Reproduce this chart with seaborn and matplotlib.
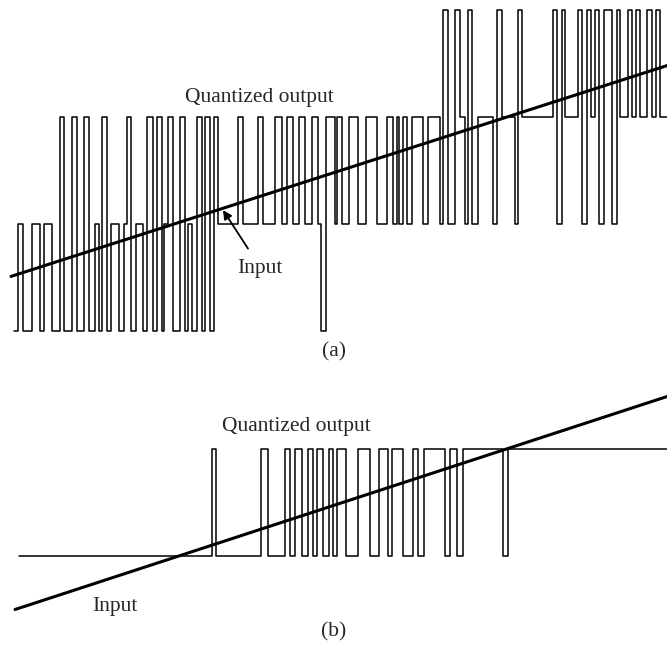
import matplotlib
matplotlib.use("Agg")
import matplotlib.pyplot as plt
import seaborn as sns

sns.set_theme(style="white")
plt.rcParams['font.family'] = ['Liberation Serif', 'DejaVu Serif']

# ---------- DATA ----------
# (a) multi-level quantizer: time of each step and the level held after it
A_TIMES = [14, 18, 23, 32, 40, 44, 52, 60, 64, 72, 77, 84, 89, 95, 99, 102, 107, 111,
           119, 124, 127, 131, 136, 143, 147, 153, 157, 162, 164, 168, 173, 180, 185,
           188, 192, 197, 202, 205, 210, 214, 218, 238, 243, 258, 263, 275, 282, 287,
           293, 299, 305, 312, 318, 321, 326, 335, 337, 342, 349, 358, 366, 377, 387,
           393, 397, 399, 403, 407, 412, 423, 428, 440, 443, 448, 455, 460, 465, 468,
           472, 478, 493, 497, 502, 515, 518, 522, 553, 557, 562, 565, 578, 582, 587,
           591, 595, 599, 604, 612, 617, 620, 628, 632, 636, 640, 647, 652, 656, 660, 667]
A_LEVELS = [0, 1, 0, 1, 0, 1, 0, 2, 0, 2, 0, 2, 0, 1, 0, 2, 0, 1,
            0, 1, 2, 0, 1, 0, 2, 0, 2, 0, 1, 2, 0, 2, 0,
            1, 0, 2, 0, 2, 0, 2, 1, 2, 1, 2, 1, 2, 1, 2,
            1, 2, 1, 2, 1, 0, 2, 1, 2, 1, 2, 1, 2, 1, 2,
            1, 2, 1, 2, 1, 2, 1, 2, 1, 3, 1, 3, 2, 1, 3,
            1, 2, 1, 3, 2, 1, 3, 2, 3, 1, 3, 2, 3, 1, 3,
            2, 3, 1, 3, 1, 3, 2, 3, 2, 3, 2, 3, 2, 3, 2, 2]
A_INPUT_T = [11, 667]
A_INPUT = [0.51, 2.48]

# (b) two-level quantizer
B_TIMES = [19, 212, 216, 261, 268, 285, 290, 295, 302, 308, 313, 317, 323, 329, 333,
           337, 346, 358, 370, 379, 388, 392, 403, 413, 418, 424, 445, 450, 457, 463,
           503, 508, 667]
B_LEVELS = [0, 1, 0, 1, 0, 1, 0, 1, 0, 1, 0, 1, 0, 1, 0,
            1, 0, 1, 0, 1, 0, 1, 0, 1, 0, 1, 0, 1, 0, 1,
            0, 1, 1]
B_INPUT_T = [15, 667]
B_INPUT = [-0.50, 1.49]
# -------------------------------------------------

assert len(A_TIMES) == len(A_LEVELS)
assert len(B_TIMES) == len(B_LEVELS)

W, H = 667, 649
fig = plt.figure(figsize=(W / 100, H / 100), dpi=100)

# panel (a): pixel rows 0..345, level 0 at row 331, 107 px per level
ax_a = fig.add_axes([0, 1 - 345 / H, 1, 345 / H])
# panel (b): pixel rows 370..649, level 0 at row 556
ax_b = fig.add_axes([0, 0, 1, 279 / H])

OUT_LW = 1.1
IN_LW = 2.2
TXT = 15.5

for ax, t, q, it, iv in [(ax_a, A_TIMES, A_LEVELS, A_INPUT_T, A_INPUT),
                         (ax_b, B_TIMES, B_LEVELS, B_INPUT_T, B_INPUT)]:
    sns.lineplot(x=t, y=q, ax=ax, drawstyle="steps-post", estimator=None,
                 sort=False, color="black", lw=OUT_LW)
    sns.lineplot(x=it, y=iv, ax=ax, estimator=None, sort=False,
                 color="black", lw=IN_LW)
    ax.set_xlim(0, W)
    ax.set_axis_off()

ax_a.set_ylim(-0.131, 3.093)
ax_b.set_ylim(-0.869, 1.738)

# labels
ax_a.text(259, 2.14, "Quantized output", ha="center", va="baseline", fontsize=TXT)
ax_a.text(260, 0.542, "Input", ha="center", va="baseline", fontsize=TXT)
ax_a.annotate("", xy=(223, 1.13), xytext=(248, 0.77),
              arrowprops=dict(arrowstyle="-|>", color="black", lw=1.3,
                              mutation_scale=13, shrinkA=0, shrinkB=0))

ax_b.text(296, 1.168, "Quantized output", ha="center", va="baseline", fontsize=TXT)
ax_b.text(115, -0.514, "Input", ha="center", va="baseline", fontsize=TXT)

fig.text(334 / W, 1 - 352 / H, "(a)", ha="center", va="center", fontsize=TXT)
fig.text(334 / W, 1 - 632 / H, "(b)", ha="center", va="center", fontsize=TXT)

fig.savefig("out.png", dpi=100, facecolor="white")
